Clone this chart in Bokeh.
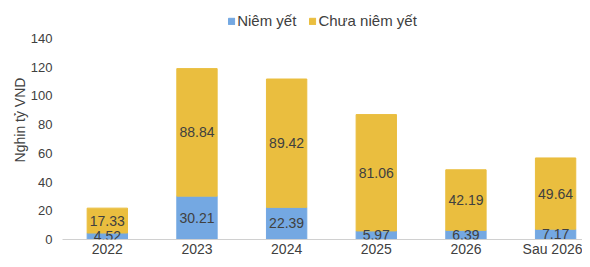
from bokeh.plotting import figure
from bokeh.models import ColumnDataSource, Legend, LegendItem, FixedTicker, Range1d, LabelSet
from bokeh.core.properties import value
from bokeh.embed import file_html
from bokeh.resources import INLINE

categories = ["2022", "2023", "2024", "2025", "2026", "Sau 2026"]
listed = [4.52, 30.21, 22.39, 5.97, 6.39, 7.17]
unlisted = [17.33, 88.84, 89.42, 81.06, 42.19, 49.64]
y_ticks = [0, 20, 40, 60, 80, 100, 120, 140]

BLUE = "#74a8e2"
YELLOW = "#eabe3f"
FONT = "Liberation Sans"
TXT = "#404040"

xs = list(range(len(categories)))
top1 = listed
top2 = [a + b for a, b in zip(listed, unlisted)]
src = ColumnDataSource(dict(
    x=xs, top1=top1, top2=top2,
    mid1=[a / 2 for a in listed],
    mid2=[a + b / 2 for a, b in zip(listed, unlisted)],
    lab1=[f"{v:.2f}" for v in listed],
    lab2=[f"{v:.2f}" for v in unlisted],
))

# y range extends above 140 to leave room for the legend inside the (invisible) frame
p = figure(width=582, height=259, output_backend="svg", toolbar_location=None,
           x_range=Range1d(-0.5, 5.30), y_range=Range1d(0, 166.5),
           min_border_left=62, min_border_right=0, min_border_top=0, min_border_bottom=0)
p.outline_line_color = None
p.xgrid.grid_line_color = None
p.ygrid.grid_line_color = None

r1 = p.vbar(x="x", bottom=0, top="top1", width=0.45, color=BLUE, source=src)
r2 = p.vbar(x="x", bottom="top1", top="top2", width=0.45, color=YELLOW, source=src)

for col, ycol in (("lab1", "mid1"), ("lab2", "mid2")):
    ls = LabelSet(x="x", y=ycol, text=col, source=src, text_align="center", text_baseline="middle",
                  text_font=value(FONT), text_font_size="14px", text_color=TXT)
    p.add_layout(ls)

p.xaxis.ticker = FixedTicker(ticks=xs)
p.xaxis.major_label_overrides = {i: c for i, c in enumerate(categories)}
p.xaxis.axis_line_color = "#d0d0d0"
p.xaxis.major_tick_line_color = None
p.xaxis.minor_tick_line_color = None
p.xaxis.major_tick_out = 0
p.xaxis.minor_tick_out = 0
p.xaxis.major_label_text_font = FONT
p.xaxis.major_label_text_font_size = "14px"
p.xaxis.major_label_text_color = TXT
p.xaxis.major_label_standoff = 1

p.yaxis.ticker = FixedTicker(ticks=y_ticks)
p.yaxis.axis_line_color = None
p.yaxis.major_tick_line_color = None
p.yaxis.minor_tick_line_color = None
p.yaxis.major_tick_out = 0
p.yaxis.minor_tick_out = 0
p.yaxis.major_label_text_font = FONT
p.yaxis.major_label_text_font_size = "13px"
p.yaxis.major_label_text_color = TXT
p.yaxis.major_label_standoff = 10
p.yaxis.axis_label = "Nghin tỷ VND"
p.yaxis.axis_label_text_font = FONT
p.yaxis.axis_label_text_font_size = "14px"
p.yaxis.axis_label_text_font_style = "normal"
p.yaxis.axis_label_text_color = TXT
p.yaxis.axis_label_standoff = 0

legend = Legend(items=[LegendItem(label="Niêm yết", renderers=[r1]),
                       LegendItem(label="Chưa niêm yết", renderers=[r2])],
                orientation="horizontal", location="top_center",
                padding=0, margin=12, spacing=12, label_height=16,
                glyph_width=8, glyph_height=8, label_standoff=2,
                label_text_font=FONT, label_text_font_size="15px", label_text_color=TXT,
                background_fill_alpha=0, border_line_color=None)
p.add_layout(legend, "center")

open("out.html", "w").write(file_html(p, INLINE))
